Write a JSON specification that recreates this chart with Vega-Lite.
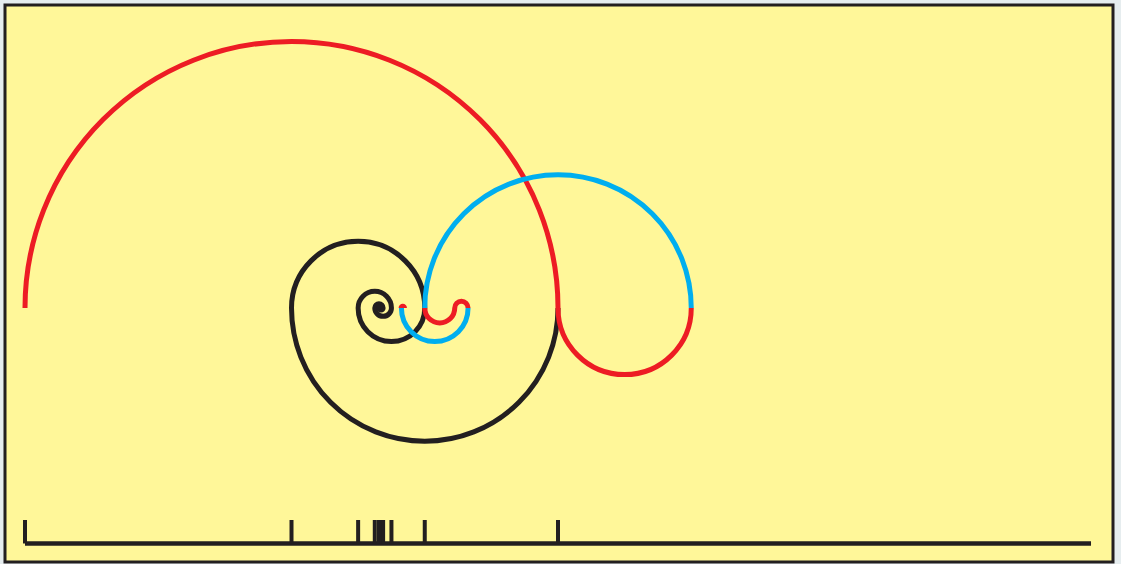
{
  "$schema": "https://vega.github.io/schema/vega-lite/v6.json",
  "width": 1108,
  "height": 557,
  "autosize": "none",
  "padding": {"left": 5, "top": 5, "right": 8, "bottom": 2},
  "background": "#E6EDEF",
  "config": {"view": {"fill": "#FFF799", "stroke": "#231F20", "strokeWidth": 3}},
  "datasets": {
    "arcs": [
      {"cx": 12, "r": 4, "t0": 90, "t1": 270, "c": "black"},
      {"cx": 10, "r": 2, "t0": -90, "t1": 90, "c": "black"},
      {"cx": 11, "r": 1, "t0": 90, "t1": 270, "c": "black"},
      {"cx": 10.5, "r": 0.5, "t0": -90, "t1": 90, "c": "black"},
      {"cx": 10.75, "r": 0.25, "t0": 90, "t1": 270, "c": "black"},
      {"cx": 10.625, "r": 0.125, "t0": -90, "t1": 90, "c": "black"},
      {"cx": 10.6875, "r": 0.0625, "t0": 90, "t1": 270, "c": "black"},
      {"cx": 10.65625, "r": 0.03125, "t0": -90, "t1": 90, "c": "black"},
      {"cx": 8, "r": 8, "t0": -90, "t1": 90, "c": "red"},
      {"cx": 18, "r": 2, "t0": 90, "t1": 270, "c": "red"},
      {"cx": 12.45, "r": 0.45, "t0": 90, "t1": 270, "c": "red"},
      {"cx": 13.1, "r": 0.2, "t0": -90, "t1": 90, "c": "red"},
      {"cx": 11.34, "r": 0.05, "t0": -90, "t1": 90, "c": "red"},
      {"cx": 16, "r": 4, "t0": -90, "t1": 90, "c": "blue"},
      {"cx": 12.3, "r": 1, "t0": 90, "t1": 270, "c": "blue"}
    ],
    "ticks": [
      {"x": 0}, {"x": 8}, {"x": 10}, {"x": 10.5}, {"x": 10.625}, {"x": 10.65625},
      {"x": 10.6875}, {"x": 10.75}, {"x": 11}, {"x": 12}, {"x": 16}
    ],
    "base": [{"x0": 0, "x1": 32}]
  },
  "layer": [
    {
      "data": {"name": "base"},
      "mark": {"type": "rule", "color": "#231F20", "strokeWidth": 4.5, "strokeCap": "butt"},
      "encoding": {
        "x": {"field": "x0", "type": "quantitative", "scale": {"domain": [-0.6004, 32.66], "nice": false, "zero": false}, "axis": null},
        "x2": {"field": "x1"},
        "y": {"datum": -7.0694, "type": "quantitative", "scale": {"domain": [-7.6248, 9.0957], "nice": false, "zero": false}, "axis": null}
      }
    },
    {
      "data": {"name": "ticks"},
      "mark": {"type": "rule", "color": "#231F20", "strokeWidth": 4, "strokeCap": "butt"},
      "encoding": {
        "x": {"field": "x", "type": "quantitative", "scale": {"domain": [-0.6004, 32.66], "nice": false, "zero": false}, "axis": null},
        "y": {"datum": -7.0694, "type": "quantitative", "scale": {"domain": [-7.6248, 9.0957], "nice": false, "zero": false}, "axis": null},
        "y2": {"datum": -6.364}
      }
    },
    {
      "data": {"name": "arcs"},
      "mark": {"type": "arc", "filled": false, "strokeWidth": 5, "strokeCap": "butt"},
      "encoding": {
        "x": {"field": "cx", "type": "quantitative", "stack": null, "scale": {"domain": [-0.6004, 32.66], "nice": false, "zero": false}, "axis": null},
        "y": {"datum": 0, "type": "quantitative", "stack": null, "scale": {"domain": [-7.6248, 9.0957], "nice": false, "zero": false}, "axis": null},
        "theta": {"field": "t0", "type": "quantitative", "scale": {"domain": [0, 360], "range": [0, 6.283185307179586]}, "stack": null},
        "theta2": {"field": "t1"},
        "radius": {"field": "r", "type": "quantitative", "scale": {"domain": [0, 16], "range": [0, 533], "zero": true}},
        "radius2": {"field": "r"},
        "color": {"field": "c", "type": "nominal", "scale": {"domain": ["red", "black", "blue"], "range": ["#ED1C24", "#231F20", "#00AEEF"]}, "legend": null}
      }
    }
  ]
}
